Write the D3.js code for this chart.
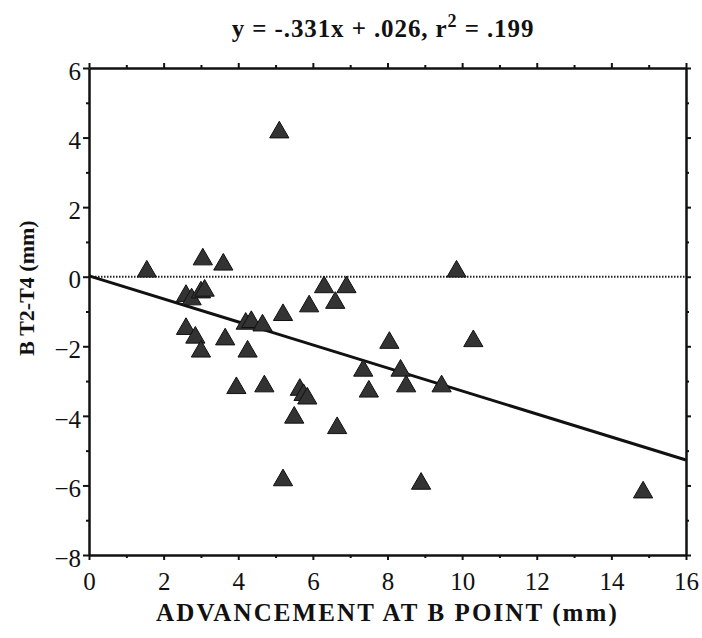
<!DOCTYPE html>
<html>
<head>
<meta charset="utf-8">
<script src="https://cdn.jsdelivr.net/npm/d3@7"></script>
<style>
  body { margin: 0; background: #fff; }
  svg { display: block; font-family: "Liberation Serif", serif; }
</style>
</head>
<body>
<div id="container"></div>
<script>
/* DATA */
const advancement = [1.55, 3.05, 3.6, 2.6, 2.75, 3.0, 3.1, 2.6, 2.85, 3.0, 3.65, 3.95, 4.25, 4.2, 4.35, 4.65, 4.7, 5.1, 5.2, 5.2, 5.5, 5.65, 5.75, 5.85, 5.9, 6.3, 6.6, 6.9, 6.65, 7.35, 7.5, 8.05, 8.35, 8.5, 9.45, 8.9, 9.85, 10.3, 14.85]
const changeT2T4 = [0.15, 0.5, 0.35, -0.55, -0.65, -0.45, -0.4, -1.5, -1.75, -2.15, -1.8, -3.2, -2.15, -1.35, -1.3, -1.4, -3.15, 4.15, -1.1, -5.85, -4.05, -3.25, -3.4, -3.5, -0.85, -0.3, -0.75, -0.3, -4.35, -2.7, -3.3, -1.9, -2.7, -3.15, -3.15, -5.95, 0.15, -1.85, -6.2]
const xTicks = [0, 2, 4, 6, 8, 10, 12, 14, 16]
const yTicks = [-8, -6, -4, -2, 0, 2, 4, 6]
const slope = -0.331
const intercept = 0.026

const data = advancement.map((x, i) => ({ x: x, y: changeT2T4[i] }))

/* CONSTANTS */
const width = 702
const height = 638
const margin = { top: 68, right: 16, bottom: 83, left: 89 }

const svg = d3.select("#container")
  .append("svg")
  .attr("width", width)
  .attr("height", height)

/* SCALES */
const xScale = d3.scaleLinear()
  .domain([0, 16])
  .range([margin.left, width - margin.right])

const yScale = d3.scaleLinear()
  .domain([-8, 6])
  .range([height - margin.bottom, margin.top])

const minorX = d3.range(1, 16, 2)
const minorY = d3.range(-7, 6, 2)

// axes, all four sides, ticks pointing outward
function styleAxis(g) {
  g.select(".domain").attr("stroke", "#111").attr("stroke-width", 2.5)
  g.selectAll(".tick line").attr("stroke", "#111").attr("stroke-width", 2)
}

const bottomY = height - margin.bottom
const topY = margin.top
const leftX = margin.left
const rightX = width - margin.right

svg.append("g")
  .attr("transform", `translate(0,${bottomY})`)
  .call(d3.axisBottom(xScale).tickValues(xTicks).tickSize(5).tickSizeOuter(0).tickPadding(12).tickFormat(d3.format("d")))
  .call(styleAxis)
  .call(g => g.selectAll(".tick text").attr("font-size", 25).attr("fill", "#111").attr("font-family", "Liberation Serif"))

svg.append("g")
  .attr("transform", `translate(0,${bottomY})`)
  .call(d3.axisBottom(xScale).tickValues(minorX).tickSize(3).tickFormat(""))
  .call(styleAxis)
  .call(g => g.select(".domain").remove())

svg.append("g")
  .attr("transform", `translate(0,${topY})`)
  .call(d3.axisTop(xScale).tickValues(xTicks).tickSize(5).tickSizeOuter(0).tickFormat(""))
  .call(styleAxis)

svg.append("g")
  .attr("transform", `translate(0,${topY})`)
  .call(d3.axisTop(xScale).tickValues(minorX).tickSize(3).tickFormat(""))
  .call(styleAxis)
  .call(g => g.select(".domain").remove())

svg.append("g")
  .attr("transform", `translate(${leftX},0)`)
  .call(d3.axisLeft(yScale).tickValues(yTicks).tickSize(6).tickSizeOuter(0).tickPadding(2).tickFormat(d3.format("d")))
  .call(styleAxis)
  .call(g => g.selectAll(".tick text").attr("font-size", 25).attr("fill", "#111").attr("font-family", "Liberation Serif").attr("dy", "0.45em"))

svg.append("g")
  .attr("transform", `translate(${leftX},0)`)
  .call(d3.axisLeft(yScale).tickValues(minorY).tickSize(3).tickFormat(""))
  .call(styleAxis)
  .call(g => g.select(".domain").remove())

svg.append("g")
  .attr("transform", `translate(${rightX},0)`)
  .call(d3.axisRight(yScale).tickValues(yTicks).tickSize(5).tickSizeOuter(0).tickFormat(""))
  .call(styleAxis)

svg.append("g")
  .attr("transform", `translate(${rightX},0)`)
  .call(d3.axisRight(yScale).tickValues(minorY).tickSize(3).tickFormat(""))
  .call(styleAxis)
  .call(g => g.select(".domain").remove())

// zero reference line (dotted)
svg.append("line")
  .attr("x1", xScale(0))
  .attr("x2", xScale(16))
  .attr("y1", yScale(0))
  .attr("y2", yScale(0))
  .attr("stroke", "#222")
  .attr("stroke-width", 2)
  .attr("stroke-dasharray", "1.5,1.5")

// regression line
svg.append("line")
  .attr("x1", xScale(0))
  .attr("x2", xScale(16))
  .attr("y1", yScale(intercept))
  .attr("y2", yScale(slope * 16 + intercept))
  .attr("stroke", "#111")
  .attr("stroke-width", 3)

// points
const tri = d3.symbol().type(d3.symbolTriangle).size(160)

svg.selectAll("path.point")
  .data(data)
  .join("path")
  .attr("class", "point")
  .attr("d", tri)
  .attr("transform", d => `translate(${xScale(d.x)},${yScale(d.y)})`)
  .attr("fill", "#333")
  .attr("stroke", "#111")
  .attr("stroke-width", 1)

// title
const title = svg.append("text")
  .attr("x", 383)
  .attr("y", 37)
  .attr("text-anchor", "middle")
  .attr("font-size", 25)
  .attr("font-weight", "bold")
  .attr("letter-spacing", 0.9)
  .attr("fill", "#111")
title.append("tspan").text("y = -.331x + .026, r")
title.append("tspan").attr("font-size", 18).attr("dy", -10).text("2")
title.append("tspan").attr("dy", 10).text(" = .199")

// axis titles
svg.append("text")
  .attr("x", (leftX + rightX) / 2)
  .attr("y", 621)
  .attr("text-anchor", "middle")
  .attr("font-size", 25)
  .attr("font-weight", "bold")
  .attr("letter-spacing", 2.1)
  .attr("fill", "#111")
  .text("ADVANCEMENT AT B POINT (mm)")

svg.append("text")
  .attr("transform", `translate(34,288) rotate(-90)`)
  .attr("text-anchor", "middle")
  .attr("font-size", 22)
  .attr("font-weight", "bold")
  .attr("fill", "#111")
  .text("B T2-T4 (mm)")
</script>
</body>
</html>
